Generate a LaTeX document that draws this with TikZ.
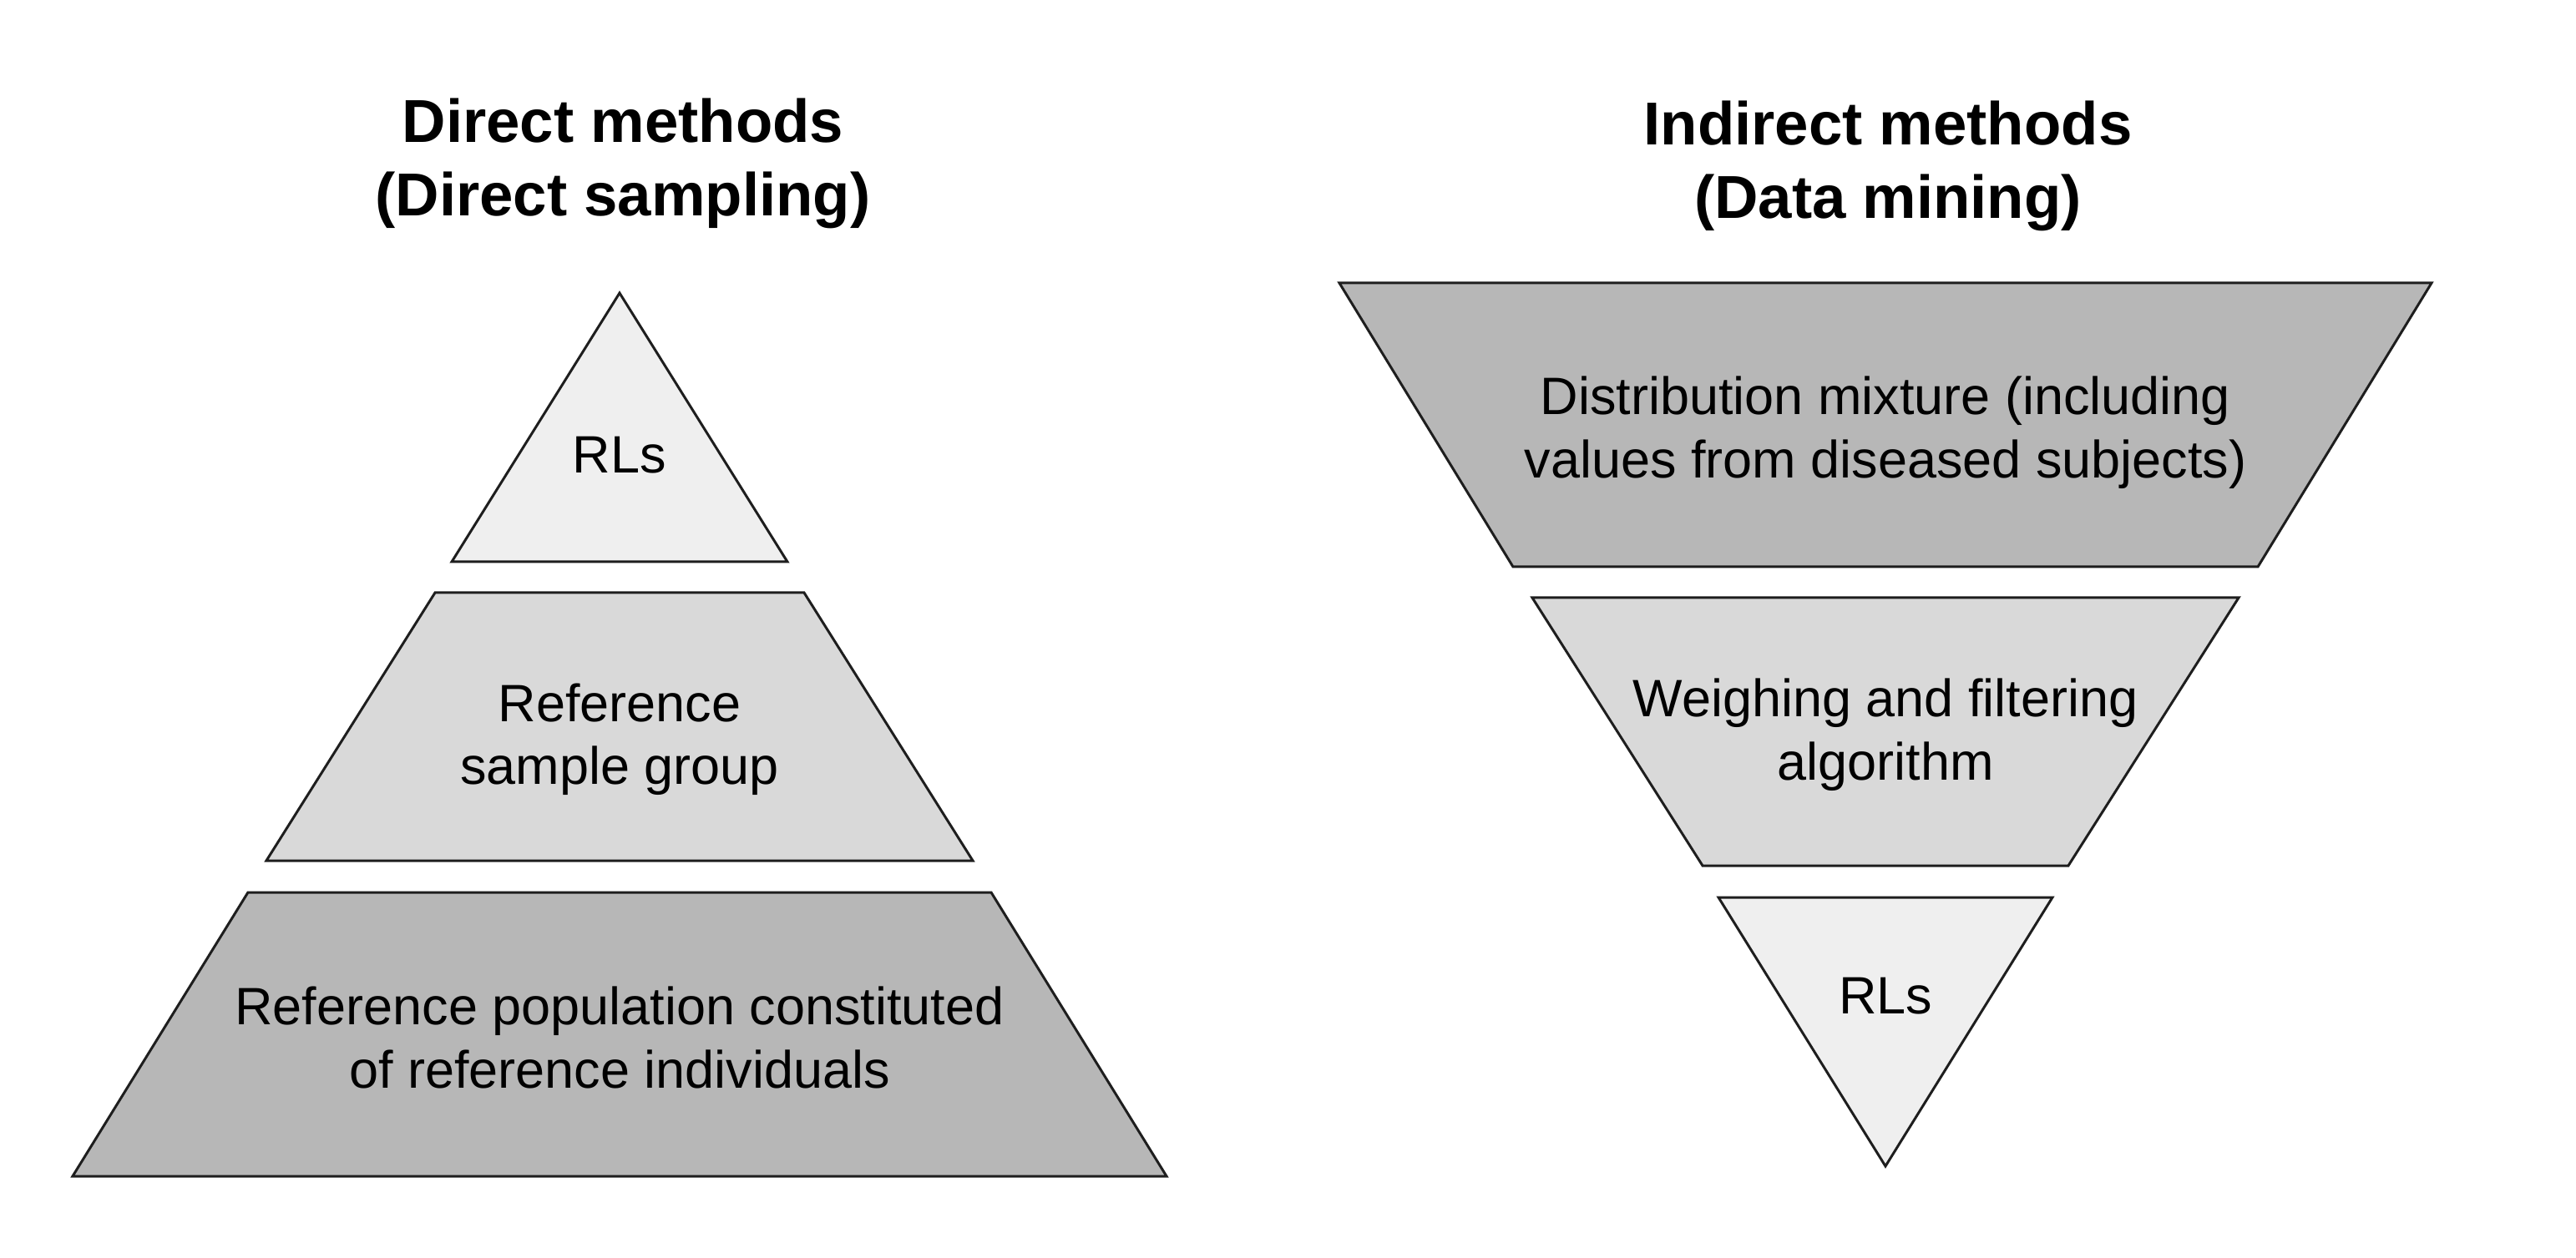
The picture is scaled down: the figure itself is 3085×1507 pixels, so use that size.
\documentclass[tikz,border=0pt]{standalone}
\usepackage{fontspec}
\setmainfont{Liberation Sans}
\definecolor{lightfill}{HTML}{EFEFEF}
\definecolor{midfill}{HTML}{D9D9D9}
\definecolor{darkfill}{HTML}{B7B7B7}
\definecolor{edge}{HTML}{1E1E1E}
\tikzset{
  tier/.style={draw=edge, line width=0.75pt, line join=miter},
  lbl/.style={inner sep=0pt, anchor=north, align=center, font=\fontsize{15.75pt}{18.9pt}\selectfont},
  ttl/.style={inner sep=0pt, anchor=north, align=center, font=\fontsize{18.15pt}{22pt}\selectfont\bfseries},
}
\begin{document}
\begin{tikzpicture}[x=0.25pt, y=-0.25pt]
\useasboundingbox (0,0) rectangle (3085,1507);
% ---------- left: direct methods ----------
\node[ttl] (tl) at (746,117) {Direct methods\\(Direct sampling)};
\fill[lightfill] (742,351) -- (943,673) -- (541,673) -- cycle;
\draw[tier] (742,351) -- (943,673) -- (541,673) -- cycle;
\fill[midfill] (521,710) -- (963,710) -- (1165,1031) -- (319,1031) -- cycle;
\draw[tier] (521,710) -- (963,710) -- (1165,1031) -- (319,1031) -- cycle;
\fill[darkfill] (297,1069) -- (1187,1069) -- (1397,1409) -- (87,1409) -- cycle;
\draw[tier] (297,1069) -- (1187,1069) -- (1397,1409) -- (87,1409) -- cycle;
\node[lbl] (l1) at (742,522) {RLs};
\node[lbl] (l2) at (742,818) {Reference\\sample group};
\node[lbl] (l3) at (742,1181) {Reference population constituted\\of reference individuals};
% ---------- right: indirect methods ----------
\node[ttl] (tr) at (2261,120) {Indirect methods\\(Data mining)};
\fill[darkfill] (1604,339) -- (2912,339) -- (2704,679) -- (1812,679) -- cycle;
\draw[tier] (1604,339) -- (2912,339) -- (2704,679) -- (1812,679) -- cycle;
\fill[midfill] (1835,716) -- (2681,716) -- (2477,1037) -- (2039,1037) -- cycle;
\draw[tier] (1835,716) -- (2681,716) -- (2477,1037) -- (2039,1037) -- cycle;
\fill[lightfill] (2058,1075) -- (2458,1075) -- (2258,1397) -- cycle;
\draw[tier] (2058,1075) -- (2458,1075) -- (2258,1397) -- cycle;
\node[lbl] (r1) at (2258,450) {Distribution mixture (including\\values from diseased subjects)};
\node[lbl] (r2) at (2258,812) {Weighing and filtering\\algorithm};
\node[lbl] (r3) at (2258,1170) {RLs};
\end{tikzpicture}
\end{document}
